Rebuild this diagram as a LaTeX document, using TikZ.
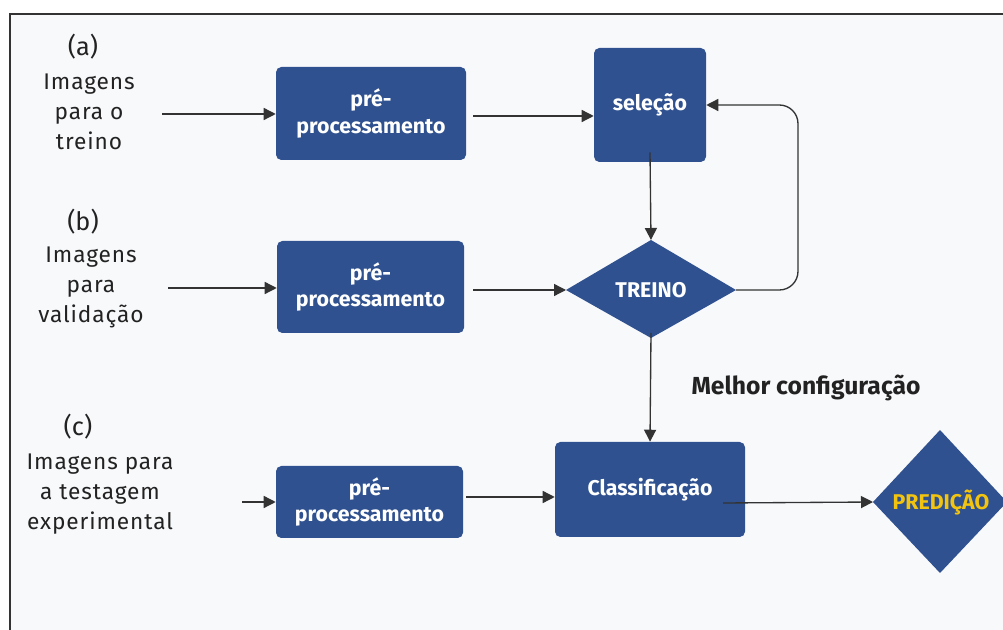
\documentclass[tikz,border=0pt]{standalone}
\usepackage{fontspec}
\setmainfont{Fira Sans}
\newfontfamily\labfont[LetterSpace=4]{Fira Sans}
\usetikzlibrary{shapes.geometric,arrows.meta}
\definecolor{boxblue}{HTML}{2F518F}
\definecolor{bg}{HTML}{F8F9FB}
\definecolor{pred}{HTML}{F2C40F}
\definecolor{txt}{HTML}{222222}
\tikzset{
  box/.style={fill=boxblue,rounded corners=4pt,draw=none,text=white,font=\fontsize{16}{20}\selectfont\bfseries,align=center,inner sep=0pt},
  dtext/.style={text=white,font=\fontsize{16}{20}\selectfont\bfseries,inner sep=0pt},
  lab/.style={text=txt,font=\labfont\fontsize{17}{22.5}\selectfont,align=center,inner sep=0pt},
  arr/.style={draw=black!80,line width=1pt,-{Triangle[length=9pt,width=9pt]}},
}
\begin{document}
\begin{tikzpicture}[x=0.75pt,y=-0.75pt]
\useasboundingbox (0,0) rectangle (1003,630);
\fill[white] (0,0) rectangle (1003,630);
\fill[bg] (10,14) rectangle (1003,630);
\draw[line width=1.5pt,black!80] (10,630) -- (10,14) -- (1003,14);
% boxes
\node[box,minimum width=190*0.75pt,minimum height=93*0.75pt] (p1) at (371,113.5) {pré-\\processamento};
\node[box,minimum width=112*0.75pt,minimum height=114*0.75pt] (sel) at (650,105) {seleção};
\node[box,minimum width=187*0.75pt,minimum height=92*0.75pt] (p2) at (370.5,287) {pré-\\processamento};
\node[box,minimum width=187*0.75pt,minimum height=72*0.75pt] (p3) at (369.5,502) {pré-\\processamento};
\node[box,minimum width=190*0.75pt,minimum height=95*0.75pt] (cls) at (650,489.5) {Classificação};
% diamonds
\fill[boxblue] (566,290) -- (651,240) -- (736,290) -- (651,338) -- cycle;
\node[dtext] (tr) at (651,290) {TREINO};
\coordinate (trL) at (566,290);
\coordinate (trR) at (736,290);
\coordinate (trT) at (651,240);
\coordinate (trB) at (651,338);
\fill[boxblue] (873,502) -- (940,430) -- (1007,502) -- (940,573) -- cycle;
\node[dtext,text=pred] (pr) at (941,503) {PREDIÇÃO};
\coordinate (prL) at (873,502);
% labels
\node[lab,font=\fontsize{19}{22}\selectfont] (a) at (83,47) {(a)};
\node[lab] (la) at (89,112) {Imagens\\para o\\treino};
\node[lab,font=\fontsize{19}{22}\selectfont] (b) at (83,222) {(b)};
\node[lab] (lb) at (91,287) {Imagens\\para\\validação};
\node[lab,font=\fontsize{19}{22}\selectfont] (c) at (78,427) {(c)};
\node[lab] (lc) at (100,494) {Imagens para\\a testagem\\experimental};
\node[text=txt,font=\fontsize{18.5}{22}\selectfont\bfseries,inner sep=0pt] (mc) at (806,388) {Melhor configuração};
% arrows
\coordinate (sa) at (162,114);
\coordinate (sb) at (168,288);
\coordinate (sc) at (242,502);
\draw[arr] (sa) -- (sa -| p1.west);
\draw[arr] (sb) -- (sb -| p2.west);
\draw[arr] (sc) -- (sc -| p3.west);
\draw[arr] ([xshift=7*0.75pt]p1.east |- 0,116) -- (sel.west |- 0,116);
\draw[arr] ([yshift=10*0.75pt]sel.south) -- (trT);
\draw[arr] ([xshift=9*0.75pt]p2.east |- 0,290) -- (trL);
\draw[arr] ([yshift=5*0.75pt]trB) -- (cls.north);
\draw[arr] ([xshift=3*0.75pt]p3.east |- 0,497) -- (cls.west |- 0,497);
\draw[arr,rounded corners=14pt] (trR) -- (798,290) -- (798,105) -- (sel.east |- 0,105);
\coordinate (cs) at (723,503);
\draw[arr] (cs) -- (prL);
\end{tikzpicture}
\end{document}
